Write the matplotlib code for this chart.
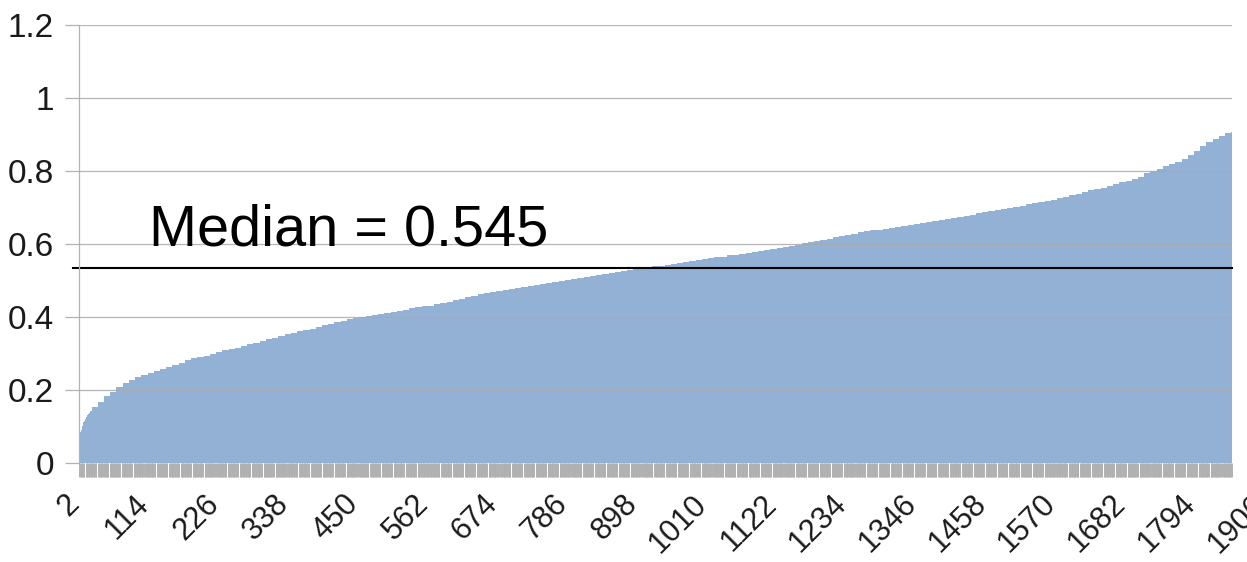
import matplotlib
matplotlib.use('Agg')
import matplotlib.pyplot as plt
import matplotlib.transforms as mtrans
import numpy as np

plt.rcParams['font.family'] = ['Liberation Sans', 'DejaVu Sans']

# sorted values: first 20 ranks one by one, then blocks of 10 ranks, last block = 1 rank
head_values = [
    0.075, 0.080, 0.087, 0.092, 0.097, 0.103, 0.108, 0.112, 0.117, 0.120,
    0.122, 0.126, 0.129, 0.131, 0.134, 0.136, 0.138, 0.140, 0.142, 0.144,
]
block_values = [
    0.154, 0.169, 0.183, 0.196, 0.209, 0.220, 0.228, 0.235,
    0.241, 0.246, 0.253, 0.258, 0.264, 0.270, 0.276, 0.282, 0.287, 0.291,
    0.295, 0.300, 0.305, 0.309, 0.313, 0.317, 0.322, 0.326, 0.330, 0.334,
    0.339, 0.344, 0.348, 0.353, 0.357, 0.361, 0.365, 0.369, 0.373, 0.378,
    0.382, 0.386, 0.390, 0.394, 0.398, 0.401, 0.404, 0.407, 0.410, 0.412,
    0.415, 0.418, 0.421, 0.424, 0.427, 0.430, 0.432, 0.435, 0.439, 0.442,
    0.446, 0.451, 0.455, 0.459, 0.463, 0.466, 0.469, 0.473, 0.475, 0.478,
    0.481, 0.484, 0.486, 0.489, 0.492, 0.495, 0.497, 0.500, 0.503, 0.505,
    0.508, 0.510, 0.513, 0.515, 0.518, 0.521, 0.524, 0.526, 0.529, 0.531,
    0.534, 0.536, 0.539, 0.541, 0.544, 0.547, 0.549, 0.552, 0.554, 0.557,
    0.559, 0.561, 0.564, 0.566, 0.569, 0.571, 0.573, 0.576, 0.578, 0.581,
    0.584, 0.587, 0.590, 0.593, 0.596, 0.599, 0.602, 0.605, 0.608, 0.612,
    0.615, 0.619, 0.622, 0.625, 0.628, 0.632, 0.635, 0.638, 0.640, 0.642,
    0.645, 0.647, 0.650, 0.652, 0.655, 0.658, 0.660, 0.663, 0.666, 0.669,
    0.671, 0.675, 0.678, 0.681, 0.684, 0.687, 0.690, 0.693, 0.696, 0.699,
    0.702, 0.705, 0.709, 0.712, 0.716, 0.719, 0.722, 0.726, 0.730, 0.734,
    0.738, 0.743, 0.747, 0.751, 0.755, 0.760, 0.764, 0.769, 0.773, 0.778,
    0.785, 0.794, 0.801, 0.807, 0.813, 0.819, 0.826, 0.834, 0.844, 0.856,
    0.869, 0.879, 0.888, 0.897, 0.904, 0.908,
]
block_sizes = [10] * (len(block_values) - 1) + [1]
first_rank = 2
label_step = 112
last_label = 1906          # shown cut off at the right edge
median_line = 0.534
median_text = 'Median = 0.545'

values = np.concatenate([head_values, np.repeat(block_values, block_sizes)])
n = len(values)
x = np.arange(n)
ranks = x + first_rank

fig = plt.figure(figsize=(12.47, 5.62), dpi=100)
ax = fig.add_axes([0.0634, 0.1756, 0.9246, 0.7799])

ax.bar(x, values, width=1.0, color='#93b1d5', linewidth=0)

ax.set_xlim(-0.5, n - 0.5)
ax.set_ylim(0, 1.2)

# y axis
yt = [0, 0.2, 0.4, 0.6, 0.8, 1.0, 1.2]
ax.set_yticks(yt)
ax.set_yticklabels(['0', '0.2', '0.4', '0.6', '0.8', '1', '1.2'])
ax.grid(True, axis='y', color='#a8a8a8', linewidth=0.9, alpha=0.85)
ax.set_axisbelow(False)
ax.tick_params(axis='y', length=10, width=0.9, color='#b3b3b3',
               labelsize=24, pad=8, labelcolor='#1a1a1a')

# x axis: a tick for every rank, labels every 112
major = x[::label_step]
ax.set_xticks(major)
ax.set_xticklabels([str(r) for r in ranks[::label_step]], rotation=45,
                   ha='right', va='top')
ax.set_xticks([i for i in x if i % 19 not in (9, 10)], minor=True)
ax.tick_params(axis='x', which='both', length=10, width=0.7, color='#b0b0b0',
               direction='out')
ax.tick_params(axis='x', which='major', labelsize=22, pad=8.5,
               labelcolor='#1a1a1a')

shift = mtrans.ScaledTranslation(0.06, 0, fig.dpi_scale_trans)
for lab in ax.get_xticklabels():
    lab.set_transform(lab.get_transform() + shift)

# last label lies past the plot edge
ax.text(last_label - first_rank, -0.071, str(last_label),
        rotation=45, ha='right', va='top', fontsize=22, color='#1a1a1a',
        clip_on=False, transform=ax.transData + shift)

for s in ['top', 'right', 'bottom']:
    ax.spines[s].set_visible(False)
ax.spines['left'].set_color('#b3b3b3')
ax.spines['left'].set_linewidth(0.9)

# median line + label
ax.axhline(median_line, xmin=-0.005, xmax=1, color='black', linewidth=1.5,
           clip_on=False)
ax.text(0.0607, 0.596, median_text, transform=ax.get_yaxis_transform(),
        fontsize=41.5, va='baseline', ha='left', color='black')

fig.savefig('out.png', dpi=100, facecolor='white')
plt.close(fig)
